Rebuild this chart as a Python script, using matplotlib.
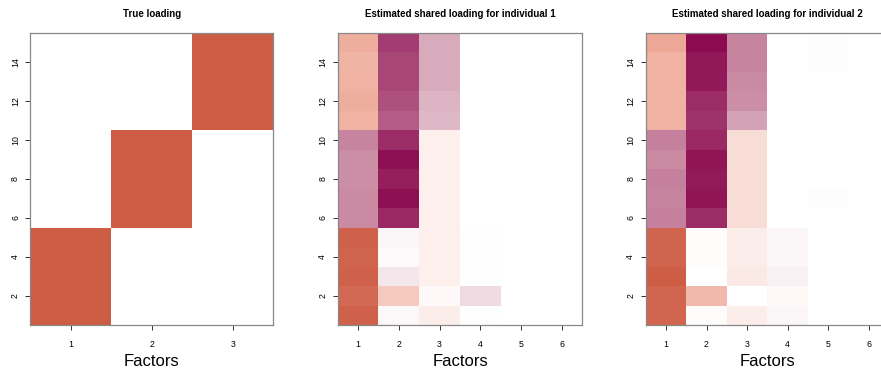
"""Heatmaps: true loading vs. estimated shared loadings for two individuals."""
import numpy as np
import matplotlib
matplotlib.use("Agg")
import matplotlib.pyplot as plt
from matplotlib.colors import LinearSegmentedColormap

plt.rcParams["font.family"] = ["Liberation Sans", "DejaVu Sans"]

# rows 1..15 (bottom to top), one list per variable
true_loading = [
    [1, 0, 0], [1, 0, 0], [1, 0, 0], [1, 0, 0], [1, 0, 0],
    [0, 1, 0], [0, 1, 0], [0, 1, 0], [0, 1, 0], [0, 1, 0],
    [0, 0, 1], [0, 0, 1], [0, 0, 1], [0, 0, 1], [0, 0, 1],
]

est_ind1 = [
    [0.97, -0.03, 0.12, 0.01, 0, 0],
    [0.92, 0.35, 0.04, -0.15, 0, 0],
    [0.97, -0.10, 0.10, 0.01, 0, 0],
    [0.96, -0.02, 0.10, 0.01, 0, 0],
    [0.97, -0.04, 0.10, 0.01, 0, 0],
    [-0.50, -0.88, 0.10, 0, 0, 0],
    [-0.50, -0.97, 0.10, 0, 0, 0],
    [-0.48, -0.92, 0.10, 0, 0, 0],
    [-0.48, -0.97, 0.10, 0, 0, 0],
    [-0.52, -0.86, 0.10, 0, 0, 0],
    [0.50, -0.68, -0.30, 0, 0, 0],
    [0.52, -0.72, -0.32, 0, 0, 0],
    [0.50, -0.76, -0.36, 0, 0, 0],
    [0.48, -0.76, -0.36, 0, 0, 0],
    [0.52, -0.80, -0.36, 0, 0, 0],
]

est_ind2 = [
    [0.94, 0.02, 0.12, -0.04, 0, 0],
    [0.94, 0.45, 0.0, 0.05, 0, 0],
    [0.99, 0.0, 0.14, -0.06, 0, 0],
    [0.95, 0.02, 0.12, -0.04, 0, 0],
    [0.95, 0.02, 0.12, -0.04, 0, 0],
    [-0.54, -0.86, 0.22, 0, 0, 0],
    [-0.52, -0.96, 0.22, 0, -0.01, 0],
    [-0.54, -0.93, 0.22, 0, 0, 0],
    [-0.50, -0.96, 0.22, 0, 0, 0],
    [-0.54, -0.88, 0.22, 0, 0, 0],
    [0.50, -0.84, -0.40, 0, 0, 0],
    [0.50, -0.86, -0.48, 0, 0, 0],
    [0.50, -0.94, -0.50, 0, 0, 0],
    [0.50, -0.94, -0.52, 0, -0.01, 0],
    [0.56, -1.00, -0.52, 0, -0.01, 0],
]

titles = [
    "True loading",
    "Estimated shared loading for individual 1",
    "Estimated shared loading for individual 2",
]

# odd number of levels so that 0 maps to pure white
cmap = LinearSegmentedColormap.from_list(
    "loading",
    [(0.0, "#8B0A50"), (0.25, "#C98AA2"), (0.5, "#FFFFFF"),
     (0.75, "#F0B2A2"), (1.0, "#CD5C45")],
    N=257,
)

# axes boxes in figure fractions (right panel runs past the image edge)
boxes = [
    (0.0346, 0.124, 0.2758, 0.787),
    (0.3832, 0.124, 0.2779, 0.787),
    (0.7329, 0.124, 0.2762, 0.787),
]

fig = plt.figure(figsize=(8.81, 3.71), dpi=100)

for box, mat, title in zip(boxes, [true_loading, est_ind1, est_ind2], titles):
    ax = fig.add_axes(box)
    data = np.array(mat, dtype=float)
    nrow, ncol = data.shape
    ax.pcolormesh(np.arange(ncol + 1) + 0.5, np.arange(nrow + 1) + 0.5, data,
                  cmap=cmap, vmin=-1, vmax=1)
    ax.set_xlim(0.5, ncol + 0.5)
    ax.set_ylim(0.5, nrow + 0.5)
    ax.set_xticks(np.arange(1, ncol + 1))
    ax.set_yticks(np.arange(2, 15, 2))
    ax.tick_params(labelsize=6.3, length=3.5, width=0.7, color="#333333")
    ax.tick_params(axis="x", pad=7)
    ax.tick_params(axis="y", pad=4)
    for lbl in ax.get_yticklabels():
        lbl.set_rotation(90)
        lbl.set_va("center")
    for sp in ax.spines.values():
        sp.set_color("#888888")
        sp.set_linewidth(0.9)
    ax.set_title(title, fontsize=7, fontweight="bold", pad=11.5)
    ax.set_xlabel("Factors", fontsize=12, labelpad=4)

fig.savefig("out.png", dpi=100)
